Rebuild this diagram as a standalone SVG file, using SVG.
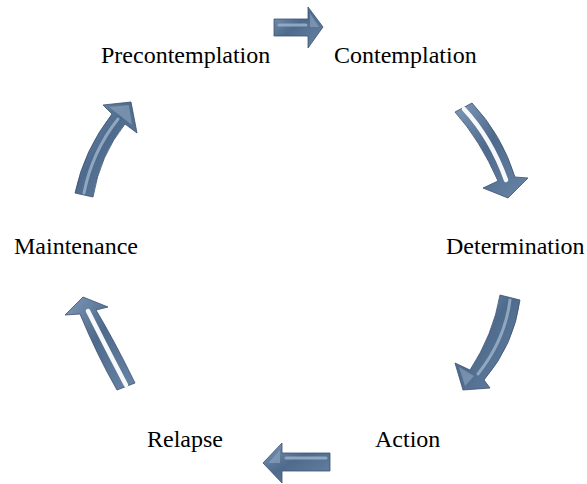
<svg xmlns="http://www.w3.org/2000/svg" width="587" height="484" viewBox="0 0 587 484">
<style>
text{font-family:"Liberation Serif","Times New Roman",serif;font-size:24px;fill:#000}
.arr{fill:url(#steel);stroke:#3a5070;stroke-width:0.8;stroke-linejoin:round}
.hiw{fill:none;stroke:#ffffff;stroke-width:4.5;stroke-linecap:round;opacity:0.95}
.hib{fill:none;stroke:#9fb5cc;stroke-width:3;stroke-linecap:round;opacity:0.8}
.hed{fill:#8fa7c2;opacity:0.6}
</style>
<defs>
<linearGradient id="steel" x1="0" y1="0" x2="1" y2="1">
<stop offset="0" stop-color="#7f9ab8"/>
<stop offset="0.45" stop-color="#4e6a8c"/>
<stop offset="1" stop-color="#6985a6"/>
</linearGradient>
</defs>
<rect width="587" height="484" fill="#fff"/>
<g id="connectors">
<g id="arrow-pre-con">
<path class="arr" d="M274,19 L308,19 L308,7 L323,27 L308,48 L308,36 L274,36 Z"/>
<path class="hib" d="M279,25 L306,25"/>
<path class="hed" d="M310,13 L319,27 L310,27 Z"/>
</g>
<g id="arrow-con-det">
<path class="arr" d="M455,112 L472,103 Q502,135 515,177 L528,178 L508,198 L483,188 L498,181 Q480,140 455,112 Z"/>
<path class="hiw" d="M464,109 Q491,138 506,180"/>
</g>
<g id="arrow-det-act">
<path class="arr" d="M500,295 L520,300 Q514,345 484,380 L490,388 L463,390 L455,363 L470,370 Q493,335 500,295 Z"/>
<path class="hib" d="M510,300 Q505,340 478,374"/>
<path class="hed" d="M459,367 L465,386 L474,376 Z"/>
</g>
<g id="arrow-act-rel">
<path class="arr" d="M330,453 L282,453 L282,443 L263,463 L282,483 L282,471 L330,471 Z"/>
<path class="hib" d="M326,458 L286,458"/>
<path class="hed" d="M268,463 L280,450 L280,463 Z"/>
</g>
<g id="arrow-rel-mai">
<path class="arr" d="M117,390 L135,383 Q114,340 96,310 L108,307 L83,297 L65,315 L80,314 Q97,355 117,390 Z"/>
<path class="hiw" d="M126,385 Q105,345 88,311"/>
</g>
<g id="arrow-mai-pre">
<path class="arr" d="M75,193 L93,197 Q100,155 125,124 L137,133 L131,102 L103,105 L112,114 Q84,150 75,193 Z"/>
<path class="hib" d="M84,193 Q92,152 118,119"/>
<path class="hed" d="M109,107 L129,105 L132,125 Z"/>
</g>
</g>
<g id="node-precontemplation"><text x="101" y="63">Precontemplation</text></g>
<g id="node-contemplation"><text x="334" y="63">Contemplation</text></g>
<g id="node-determination"><text x="446" y="254">Determination</text></g>
<g id="node-action"><text x="375" y="447">Action</text></g>
<g id="node-relapse"><text x="147" y="447">Relapse</text></g>
<g id="node-maintenance"><text x="14" y="254">Maintenance</text></g>
</svg>
